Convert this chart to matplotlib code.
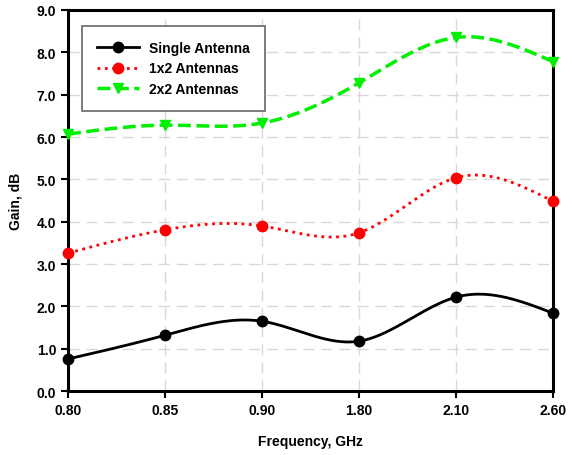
import numpy as np
import matplotlib
matplotlib.use("Agg")
from matplotlib import pyplot as plt

plt.rcParams['font.family'] = ['Liberation Sans', 'DejaVu Sans']
plt.rcParams['font.weight'] = 'bold'

freq_labels = ["0.80", "0.85", "0.90", "1.80", "2.10", "2.60"]
single = [0.76, 1.32, 1.65, 1.18, 2.22, 1.84]
ant_1x2 = [3.26, 3.81, 3.90, 3.74, 5.04, 4.48]
ant_2x2 = [6.07, 6.28, 6.33, 7.28, 8.35, 7.78]


def natural_spline(y, n=200):
    # natural cubic spline through equally spaced points
    y = np.asarray(y, float)
    k = len(y)
    A = np.zeros((k, k))
    b = np.zeros(k)
    A[0, 0] = A[-1, -1] = 1
    for i in range(1, k - 1):
        A[i, i - 1:i + 2] = [1, 4, 1]
        b[i] = 6 * (y[i + 1] - 2 * y[i] + y[i - 1])
    M = np.linalg.solve(A, b)
    xs = np.linspace(0, k - 1, n)
    idx = np.clip(np.floor(xs).astype(int), 0, k - 2)
    t = xs - idx
    ys = ((1 - t) * y[idx] + t * y[idx + 1]
          + ((1 - t) ** 3 - (1 - t)) * M[idx] / 6
          + (t ** 3 - t) * M[idx + 1] / 6)
    return xs, ys


fig = plt.figure(figsize=(5.72, 4.56), dpi=100)
ax = fig.add_axes([0.119, 0.140, 0.848, 0.836])

x = np.arange(len(freq_labels))
series = [
    (single, "Single Antenna", "black", "-", "o", 2.0),
    (ant_1x2, "1x2 Antennas", "red", ":", "o", 2.0),
    (ant_2x2, "2x2 Antennas", "#00ee00", "--", "v", 2.5),
]
for vals, name, col, ls, mk, lw in series:
    xs, ys = natural_spline(vals)
    ax.plot(xs, ys, color=col, ls=ls, lw=lw)
    ax.plot(x, vals, ls="none", marker=mk, color=col, ms=7.5, clip_on=False, zorder=5)
    ax.plot([], [], color=col, ls=ls, lw=lw, marker=mk, ms=7.5, label=name)

ax.set_xlim(0, len(freq_labels) - 1)
ax.set_ylim(0, 9)
ax.set_xticks(x)
ax.set_xticklabels(freq_labels)
ax.set_yticks(np.arange(0, 9.1, 1))
ax.set_yticklabels(["%.1f" % v for v in np.arange(0, 9.1, 1)])
ax.tick_params(labelsize=10, width=1.5, length=5, direction="out")
ax.grid(True, color="#d8d8d8", ls=(0, (8, 5)), lw=1)
ax.set_axisbelow(True)
for s in ax.spines.values():
    s.set_linewidth(2.2)

ax.set_xlabel("Frequency, GHz", fontsize=10, fontweight="bold", labelpad=12)
ax.set_ylabel("Gain, dB", fontsize=10, fontweight="bold", labelpad=10)

leg = ax.legend(loc="upper left", bbox_to_anchor=(0.029, 0.958), borderaxespad=0,
                fontsize=10, handlelength=3.0, handletextpad=0.7,
                fancybox=False, framealpha=1, edgecolor="#666666",
                borderpad=1.1, labelspacing=0.45)
leg.get_frame().set_linewidth(1.2)

plt.savefig("out.png", dpi=100)
